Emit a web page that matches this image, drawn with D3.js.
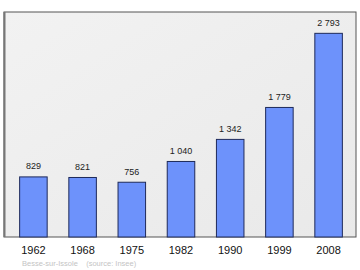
<!DOCTYPE html>
<html>
<head>
<meta charset="utf-8">
<script src="https://cdn.jsdelivr.net/npm/d3@7"></script>
<style>
  body { margin: 0; background: #fff; }
  text { font-family: "Liberation Sans", Arial, sans-serif; }
</style>
</head>
<body>
<div id="chart"></div>
<script>
var years = ["1962", "1968", "1975", "1982", "1990", "1999", "2008"];
var population = [829, 821, 756, 1040, 1342, 1779, 2793];
var yMax = 3000;
var sourceText = "Besse-sur-Issole    (source: Insee)";

var width = 360, height = 270;

var svg = d3.select("#chart").append("svg")
  .attr("width", width)
  .attr("height", height);

var defs = svg.append("defs");
var grad = defs.append("linearGradient")
  .attr("id", "bg")
  .attr("x1", "0").attr("y1", "0").attr("x2", "1").attr("y2", "1");
grad.append("stop").attr("offset", "0").attr("stop-color", "#f2f2f2");
grad.append("stop").attr("offset", "1").attr("stop-color", "#e9e9e9");

// frame
var frame = { left: 4, top: 12, right: 356, bottom: 237 };
svg.append("rect")
  .attr("x", frame.left)
  .attr("y", frame.top)
  .attr("width", frame.right - frame.left)
  .attr("height", frame.bottom - frame.top)
  .style("fill", "url(#bg)")
  .style("stroke", "#555")
  .style("stroke-width", 1);
// shadow on the left edge
svg.append("line")
  .attr("x1", frame.left + 0.5).attr("x2", frame.left + 0.5)
  .attr("y1", frame.top).attr("y2", frame.bottom)
  .style("stroke", "#777")
  .style("stroke-width", 2);

var x = d3.scaleBand()
  .domain(years)
  .range([6, 356])
  .paddingInner(0.42)
  .paddingOuter(0.267);

var y = d3.scaleLinear()
  .domain([0, yMax])
  .range([frame.bottom, frame.bottom - 219.3]);

var data = years.map(function(d, i) { return { year: d, value: population[i] }; });

svg.selectAll(".bar")
  .data(data)
  .enter().append("rect")
  .attr("class", "bar")
  .attr("x", function(d) { return x(d.year) + 0.5; })
  .attr("y", function(d) { return y(d.value) + 0.5; })
  .attr("width", x.bandwidth() - 1)
  .attr("height", function(d) { return y(0) - y(d.value) - 0.5; })
  .style("fill", "#6d92fb")
  .style("stroke", "#1e2a5a")
  .style("stroke-width", 1);

var fmt = function(v) { return d3.format(",")(v).replace(/,/g, "\u00a0"); };

svg.selectAll(".val")
  .data(data)
  .enter().append("text")
  .attr("class", "val")
  .attr("x", function(d) { return x(d.year) + x.bandwidth() / 2; })
  .attr("y", function(d) { return y(d.value) - 7; })
  .attr("text-anchor", "middle")
  .style("font-size", "9px")
  .style("fill", "#222")
  .text(function(d) { return fmt(d.value); });

svg.selectAll(".yr")
  .data(years)
  .enter().append("text")
  .attr("class", "yr")
  .attr("x", function(d) { return x(d) + x.bandwidth() / 2; })
  .attr("y", 254)
  .attr("text-anchor", "middle")
  .style("font-size", "11px")
  .style("fill", "#111")
  .text(function(d) { return d; });

svg.append("text")
  .attr("x", 22)
  .attr("y", 265.5)
  .style("font-size", "7.5px")
  .style("fill", "#c4c4c4")
  .style("white-space", "pre")
  .attr("xml:space", "preserve")
  .text(sourceText);
</script>
</body>
</html>
